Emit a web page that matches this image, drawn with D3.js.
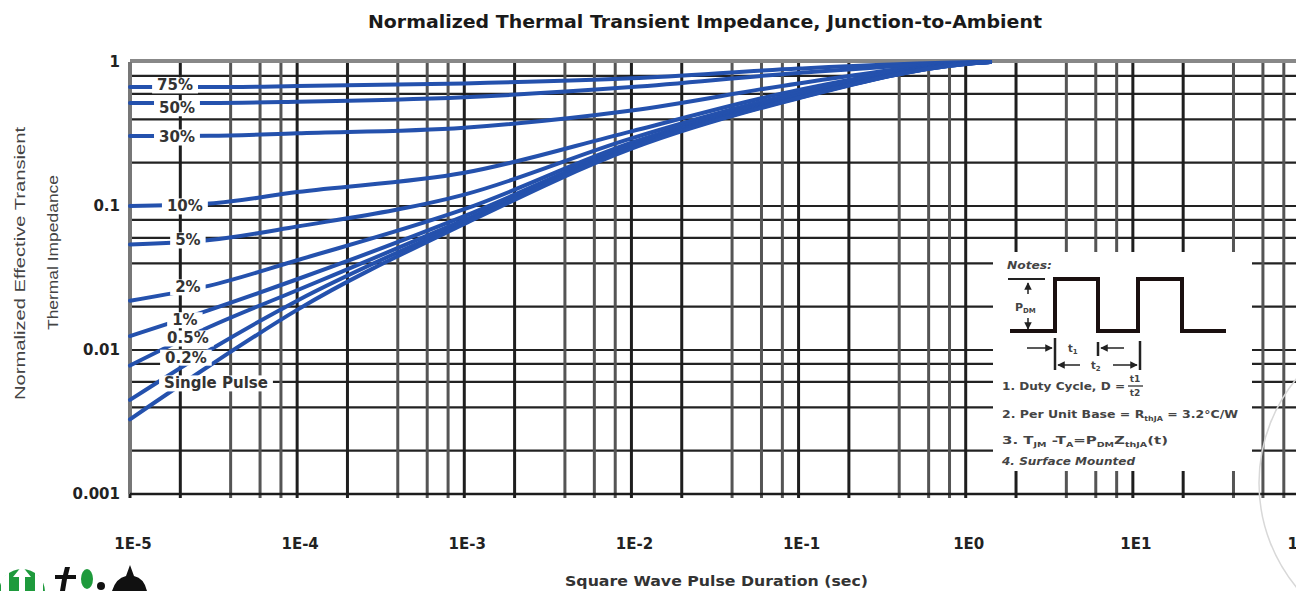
<!DOCTYPE html>
<html>
<head>
<meta charset="utf-8">
<script src="https://cdn.jsdelivr.net/npm/d3@7"></script>
<style>
  body { margin: 0; background: #fff; overflow: hidden; }
  svg { display: block; font-family: "DejaVu Sans", "Liberation Sans", Arial, sans-serif; }
</style>
</head>
<body>
<div id="chart"></div>
<script>
//! CONSTS
const WIDTH = 1296;
const HEIGHT = 591;
const PLOT = { left: 130, right: 1300, top: 62, bottom: 494 };
const CURVE_COLOR = '#2451ad';

//! DATA
const pulseTimes = [1e-5, 3e-5, 1e-4, 1e-3, 1e-2, 1e-1, 1, 1.4];
const duty75 = [0.67, 0.67, 0.68, 0.71, 0.77, 0.90, 0.995, 1.0];
const duty50 = [0.52, 0.52, 0.53, 0.57, 0.67, 0.84, 0.99, 1.0];
const duty30 = [0.306, 0.307, 0.32, 0.35, 0.46, 0.71, 0.985, 1.0];
const duty10 = [0.10, 0.104, 0.125, 0.17, 0.33, 0.64, 0.98, 1.0];
const duty5 = [0.054, 0.058, 0.072, 0.12, 0.295, 0.61, 0.98, 1.0];
const duty2 = [0.022, 0.028, 0.042, 0.095, 0.275, 0.59, 0.975, 1.0];
const duty1 = [0.0125, 0.019, 0.031, 0.085, 0.265, 0.58, 0.975, 1.0];
const duty05 = [0.0078, 0.0145, 0.026, 0.08, 0.26, 0.57, 0.97, 1.0];
const duty02 = [0.0045, 0.010, 0.022, 0.077, 0.255, 0.565, 0.97, 1.0];
const singlePulse = [0.0033, 0.0078, 0.019, 0.075, 0.25, 0.56, 0.97, 1.0];

const seriesNames = ['75%', '50%', '30%', '10%', '5%', '2%', '1%', '0.5%', '0.2%', 'Single Pulse'];
const seriesValues = [duty75, duty50, duty30, duty10, duty5, duty2, duty1, duty05, duty02, singlePulse];
// where each curve label sits (time, impedance)
const labelTimes = [1.86e-5, 1.91e-5, 1.91e-5, 2.13e-5, 2.22e-5, 2.22e-5, 2.13e-5, 2.22e-5, 2.16e-5, 3.27e-5];
const labelValues = [0.692, 0.48, 0.301, 0.1, 0.058, 0.0274, 0.0162, 0.0121, 0.0089, 0.0059];

const xTickValues = [1e-5, 1e-4, 1e-3, 1e-2, 1e-1, 1, 10, 100];
const xTickLabels = ['1E-5', '1E-4', '1E-3', '1E-2', '1E-1', '1E0', '1E1', '1E2'];
const yTickValues = [1, 0.1, 0.01, 0.001];
const yTickLabels = ['1', '0.1', '0.01', '0.001'];
const gridMultiples = [1, 2, 4, 6, 8];

//! SVG
const svg = d3.select('#chart')
  .append('svg')
  .attr('width', WIDTH)
  .attr('height', HEIGHT);

const defs = svg.append('defs');
defs.append('marker')
  .attr('id', 'arrow')
  .attr('viewBox', '0 0 10 10')
  .attr('refX', 9).attr('refY', 5)
  .attr('markerWidth', 5).attr('markerHeight', 5)
  .attr('orient', 'auto')
  .append('path')
  .attr('d', 'M0 0 L10 5 L0 10 Z')
  .attr('fill', '#222');

const x = d3.scaleLog().domain([1e-5, 100]).range([PLOT.left, PLOT.right]);
const y = d3.scaleLog().domain([0.001, 1]).range([PLOT.bottom, PLOT.top]);

// grid values
const xGrid = [];
d3.range(-5, 2).forEach(e => gridMultiples.forEach(m => xGrid.push(m * Math.pow(10, e))));
xGrid.push(100);
const yGrid = [];
d3.range(-3, 0).forEach(e => gridMultiples.forEach(m => yGrid.push(m * Math.pow(10, e))));
yGrid.push(1);

const grid = svg.append('g').attr('class', 'grid');

grid.selectAll('line.h')
  .data(yGrid)
  .enter()
  .append('line')
  .attr('class', 'h')
  .attr('x1', PLOT.left)
  .attr('x2', WIDTH)
  .attr('y1', d => y(d))
  .attr('y2', d => y(d))
  .attr('stroke', '#222')
  .attr('stroke-width', 2.2);

grid.selectAll('line.v')
  .data(xGrid)
  .enter()
  .append('line')
  .attr('class', 'v')
  .attr('x1', d => x(d))
  .attr('x2', d => x(d))
  .attr('y1', PLOT.top)
  .attr('y2', PLOT.bottom + 4)
  .attr('stroke', (d, i) => i % 5 === 0 || i % 5 === 1 ? '#1e1e1e' : '#555')
  .attr('stroke-width', 3);

// borders
grid.append('line')
  .attr('x1', PLOT.left).attr('x2', WIDTH)
  .attr('y1', PLOT.top - 1).attr('y2', PLOT.top - 1)
  .attr('stroke', '#888').attr('stroke-width', 4);
grid.append('line')
  .attr('x1', PLOT.left).attr('x2', PLOT.left)
  .attr('y1', PLOT.top).attr('y2', PLOT.bottom)
  .attr('stroke', '#777').attr('stroke-width', 4);
grid.append('line')
  .attr('x1', PLOT.left).attr('x2', WIDTH)
  .attr('y1', PLOT.bottom).attr('y2', PLOT.bottom)
  .attr('stroke', '#1c1c1c').attr('stroke-width', 2.5);

//! CURVES
const line = d3.line()
  .x((d, i) => x(pulseTimes[i]))
  .y(d => y(d))
  .curve(d3.curveMonotoneX);

svg.append('g')
  .attr('class', 'curves')
  .selectAll('path')
  .data(seriesValues)
  .enter()
  .append('path')
  .attr('d', line)
  .attr('fill', 'none')
  .attr('stroke', CURVE_COLOR)
  .attr('stroke-width', 4)
  .attr('stroke-linecap', 'round');

//! CURVE LABELS (white backing breaks the grid and curves)
const labels = svg.append('g').attr('class', 'curve-labels');
seriesNames.forEach((name, i) => {
  const g = labels.append('g');
  const t = g.append('text')
    .attr('x', x(labelTimes[i]))
    .attr('y', y(labelValues[i]))
    .attr('dy', '0.36em')
    .attr('text-anchor', 'middle')
    .attr('font-size', 15)
    .attr('font-weight', 'bold')
    .attr('fill', '#333')
    .text(name);
  const b = t.node().getBBox();
  g.insert('rect', 'text')
    .attr('x', b.x - 5)
    .attr('y', b.y + 1)
    .attr('width', b.width + 10)
    .attr('height', b.height - 2)
    .attr('fill', '#fff');
});

//! AXES LABELS
svg.append('g')
  .selectAll('text')
  .data(xTickValues)
  .enter()
  .append('text')
  .attr('x', d => x(d) + 3)
  .attr('y', 549)
  .attr('text-anchor', 'middle')
  .attr('font-size', 15)
  .attr('font-weight', 'bold')
  .attr('fill', '#222')
  .text((d, i) => xTickLabels[i]);

svg.append('g')
  .selectAll('text')
  .data(yTickValues)
  .enter()
  .append('text')
  .attr('x', 120)
  .attr('y', d => y(d))
  .attr('dy', '0.36em')
  .attr('text-anchor', 'end')
  .attr('font-size', 15)
  .attr('font-weight', 'bold')
  .attr('fill', '#222')
  .text((d, i) => yTickLabels[i]);

svg.append('text')
  .attr('x', 368)
  .attr('y', 28)
  .attr('textLength', 674)
  .attr('lengthAdjust', 'spacingAndGlyphs')
  .attr('font-size', 17)
  .attr('font-weight', 'bold')
  .attr('fill', '#1a1a1a')
  .text('Normalized Thermal Transient Impedance, Junction-to-Ambient');

svg.append('text')
  .attr('x', 565)
  .attr('y', 586)
  .attr('textLength', 303)
  .attr('lengthAdjust', 'spacingAndGlyphs')
  .attr('font-size', 14)
  .attr('font-weight', 'bold')
  .attr('fill', '#333')
  .text('Square Wave Pulse Duration (sec)');

svg.append('text')
  .attr('transform', 'translate(25,400) rotate(-90)')
  .attr('textLength', 273)
  .attr('lengthAdjust', 'spacingAndGlyphs')
  .attr('font-family', '"Liberation Sans", Arial, sans-serif')
  .attr('font-size', 15)
  .attr('fill', '#444')
  .text('Normalized Effective Transient');
svg.append('text')
  .attr('transform', 'translate(58,330) rotate(-90)')
  .attr('textLength', 155)
  .attr('lengthAdjust', 'spacingAndGlyphs')
  .attr('font-family', '"Liberation Sans", Arial, sans-serif')
  .attr('font-size', 15)
  .attr('fill', '#444')
  .text('Thermal Impedance');

//! NOTES BOX
const notes = svg.append('g').attr('class', 'notes');
notes.append('rect')
  .attr('x', 993).attr('y', 252)
  .attr('width', 259).attr('height', 219)
  .attr('fill', '#fff');

const ink = '#222';
const noteFill = '#444';
notes.append('text')
  .attr('x', 1007).attr('y', 269)
  .attr('textLength', 45)
  .attr('lengthAdjust', 'spacingAndGlyphs')
  .attr('font-size', 11).attr('font-weight', 'bold').attr('font-style', 'italic')
  .attr('fill', noteFill)
  .text('Notes:');

const wave = [[1010, 331], [1055, 331], [1055, 279], [1098, 279], [1098, 331], [1138, 331],
  [1138, 279], [1182, 279], [1182, 331], [1226, 331]];
notes.append('path')
  .attr('d', d3.line()(wave))
  .attr('fill', 'none')
  .attr('stroke', '#1a1010')
  .attr('stroke-width', 4);

const seg = (x1, y1, x2, y2, w, arrow) => {
  const l = notes.append('line')
    .attr('x1', x1).attr('y1', y1).attr('x2', x2).attr('y2', y2)
    .attr('stroke', ink).attr('stroke-width', w || 1.5);
  if (arrow) l.attr('marker-end', 'url(#arrow)');
  return l;
};
seg(1008, 279, 1045, 279, 2);
seg(1028, 294, 1028, 283, 1.5, true);
seg(1028, 318, 1028, 329, 1.5, true);
notes.append('text').attr('x', 1015).attr('y', 311)
  .attr('font-size', 11).attr('font-weight', 'bold').attr('fill', noteFill)
  .text('P').append('tspan').attr('font-size', 7).attr('dy', 2).text('DM');
// t1 / t2 arrows
seg(1055, 338, 1055, 370, 2.5);
seg(1098, 342, 1098, 356, 2.5);
seg(1140, 341, 1140, 370, 2.5);
seg(1027, 348, 1052, 348, 1.5, true);
seg(1124, 348, 1101, 348, 1.5, true);
seg(1080, 365, 1058, 365, 1.5, true);
seg(1113, 365, 1137, 365, 1.5, true);
notes.append('text').attr('x', 1068).attr('y', 352)
  .attr('font-size', 10).attr('font-weight', 'bold').attr('fill', noteFill)
  .text('t').append('tspan').attr('font-size', 7).attr('dy', 2).text('1');
notes.append('text').attr('x', 1091).attr('y', 369)
  .attr('font-size', 10).attr('font-weight', 'bold').attr('fill', noteFill)
  .text('t').append('tspan').attr('font-size', 7).attr('dy', 2).text('2');

const noteText = (yy, len, italic) => notes.append('text')
  .attr('x', 1002).attr('y', yy)
  .attr('textLength', len)
  .attr('lengthAdjust', 'spacingAndGlyphs')
  .attr('font-size', 11).attr('font-weight', 'bold')
  .attr('font-style', italic ? 'italic' : 'normal')
  .attr('fill', noteFill);

noteText(390, 123).text('1. Duty Cycle, D =');
notes.append('text').attr('x', 1135).attr('y', 382).attr('text-anchor', 'middle')
  .attr('font-size', 9).attr('font-weight', 'bold').attr('fill', noteFill).text('t1');
seg(1128, 386, 1143, 386, 1.2);
notes.append('text').attr('x', 1135).attr('y', 396).attr('text-anchor', 'middle')
  .attr('font-size', 9).attr('font-weight', 'bold').attr('fill', noteFill).text('t2');

const n2 = noteText(418, 236);
n2.append('tspan').text('2. Per Unit Base = R');
n2.append('tspan').attr('font-size', 7).attr('dy', 3).text('thJA');
n2.append('tspan').attr('dy', -3).text(' = 3.2°C/W');

const n3 = noteText(444, 166);
n3.append('tspan').text('3. T');
n3.append('tspan').attr('font-size', 7).attr('dy', 3).text('JM');
n3.append('tspan').attr('dy', -3).text(' -T');
n3.append('tspan').attr('font-size', 7).attr('dy', 3).text('A');
n3.append('tspan').attr('dy', -3).text('=P');
n3.append('tspan').attr('font-size', 7).attr('dy', 3).text('DM');
n3.append('tspan').attr('dy', -3).text('Z');
n3.append('tspan').attr('font-size', 7).attr('dy', 3).text('thJA');
n3.append('tspan').attr('dy', -3).text('(t)');

noteText(465, 133, true).text('4. Surface Mounted');

//! WATERMARK ARC + LOGO
svg.append('circle')
  .attr('cx', 1423).attr('cy', 483).attr('r', 164)
  .attr('fill', 'none').attr('stroke', '#d8d8d8').attr('stroke-width', 1.5);

const logo = svg.append('g').attr('class', 'logo');
logo.append('circle').attr('cx', 22).attr('cy', 592).attr('r', 23).attr('fill', '#1e9a3c');
logo.append('path').attr('d', 'M22 566 L31 577 L25 577 L25 591 L19 591 L19 577 L13 577 Z').attr('fill', '#fff');
logo.append('path').attr('d', 'M1 580 L9 572 L9 591 L1 591 Z').attr('fill', '#fff');
logo.append('path').attr('d', 'M43 580 L35 572 L35 591 L43 591 Z').attr('fill', '#fff');
logo.append('path').attr('d', 'M60 591 L62 579 L55 579 L55 575 L63 575 L65 567 L70 567 L68 575 L76 575 L76 579 L67 579 L65 591 Z').attr('fill', '#111');
logo.append('ellipse').attr('cx', 87).attr('cy', 579).attr('rx', 6).attr('ry', 10).attr('fill', '#1e9a3c');
logo.append('circle').attr('cx', 101).attr('cy', 586).attr('r', 4).attr('fill', '#111');
logo.append('path').attr('d', 'M112 591 Q116 578 126 576 L130 565 L134 576 Q144 578 147 591 Z').attr('fill', '#111');
</script>
</body>
</html>
